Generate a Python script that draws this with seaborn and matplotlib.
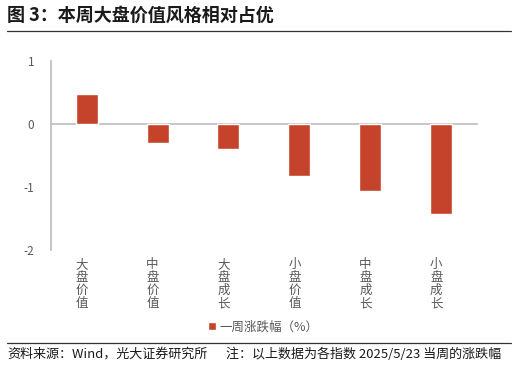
import matplotlib
matplotlib.use('Agg')
import matplotlib.pyplot as plt
import seaborn as sns
from matplotlib.lines import Line2D
from matplotlib.transforms import blended_transform_factory

# data
categories = ["大盘价值", "中盘价值", "大盘成长", "小盘价值", "中盘成长", "小盘成长"]
weekly_change = [0.48, -0.30, -0.40, -0.83, -1.06, -1.43]
y_ticks = [-2, -1, 0, 1]

TITLE = "图 3：本周大盘价值风格相对占优"
SOURCE = "资料来源：Wind，光大证券研究所"
NOTE = "注：以上数据为各指数 2025/5/23 当周的涨跌幅"
BAR_COLOR = "#C5432A"
GRAY = "#595959"
AXIS_GRAY = "#BFBFBF"

sns.set_theme(style="white")
plt.rcParams['font.family'] = ['Noto Sans CJK SC', 'DejaVu Sans']
plt.rcParams['axes.unicode_minus'] = False

fig = plt.figure(figsize=(5.16, 3.65), dpi=100)
ax = fig.add_axes([0.099, 0.315, 0.825, 0.518])

sns.barplot(x=categories, y=weekly_change, color=BAR_COLOR, width=0.31,
            saturation=1, label="一周涨跌幅（%）", ax=ax)

ax.set_ylim(-2, 1)
ax.set_xlim(-0.5, len(categories) - 0.5)
ax.set_yticks(y_ticks)
ax.set_yticklabels([str(t) for t in y_ticks], color=GRAY, fontsize=8.5)
ax.tick_params(axis='y', direction='in', length=4, color=AXIS_GRAY, width=1, pad=12)

# zero line as the x axis with boundary ticks
for s in ['top', 'right']:
    ax.spines[s].set_visible(False)
ax.spines['left'].set_color(AXIS_GRAY)
ax.spines['bottom'].set_position(('data', 0))
ax.spines['bottom'].set_color(AXIS_GRAY)
ax.spines['bottom'].set_zorder(0)
ax.set_xticks([i - 0.5 for i in range(1, len(categories))])
ax.set_xticklabels([])
ax.tick_params(axis='x', direction='in', length=3, color=AXIS_GRAY, width=1)
ax.set_xlabel("")
ax.set_ylabel("")

# vertical category labels
trans = blended_transform_factory(ax.transData, fig.transFigure)
for i, c in enumerate(categories):
    ax.text(i - 0.07, 1 - 258 / 365, "\n".join(c), transform=trans, ha='center', va='top',
            color=GRAY, fontsize=9, linespacing=1.0)

ax.legend(loc='center', bbox_to_anchor=(0.51, 1 - 327 / 365), bbox_transform=fig.transFigure,
          frameon=False, fontsize=9, handlelength=0.6, handleheight=0.6, handletextpad=0.3,
          labelcolor=GRAY)

# title, rules, footer
fig.text(0.014, 1 - 15 / 365, TITLE, fontsize=13, fontweight='bold', va='center', color='#1a1a1a')
fig.add_artist(Line2D([0.014, 0.99], [1 - 31 / 365] * 2, color='#333333', lw=0.9))
fig.add_artist(Line2D([0.014, 0.99], [1 - 343 / 365] * 2, color='#333333', lw=0.9))
fig.text(0.014, 1 - 354 / 365, SOURCE, fontsize=9.4, va='center', color='#1a1a1a')
fig.text(0.438, 1 - 354 / 365, NOTE, fontsize=9.4, va='center', color='#1a1a1a')

fig.savefig("out.png", dpi=100)
